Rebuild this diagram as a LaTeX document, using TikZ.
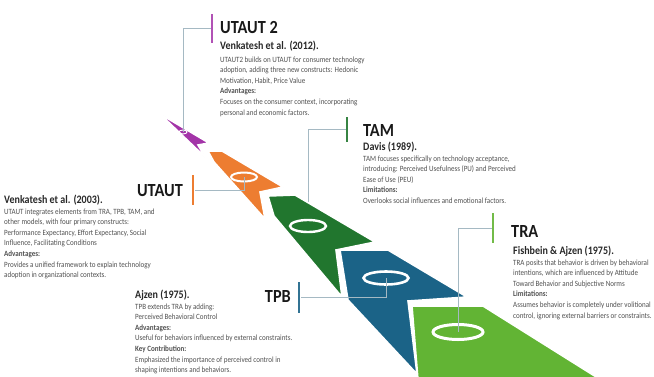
\documentclass[tikz,border=0pt]{standalone}
\usepackage{fontspec}
\setmainfont{Carlito}[FakeStretch=0.88]
\usetikzlibrary{shapes.geometric,backgrounds}
\definecolor{magc}{RGB}{163,52,168}
\definecolor{orac}{RGB}{237,125,49}
\definecolor{dgrc}{RGB}{33,118,46}
\definecolor{bluc}{RGB}{27,99,135}
\definecolor{lgrc}{RGB}{98,180,52}
\definecolor{linkc}{RGB}{165,185,195}
\definecolor{titlec}{RGB}{25,25,25}
\definecolor{subc}{RGB}{40,40,40}
\definecolor{bodyc}{RGB}{80,80,80}

\begin{document}
\begin{tikzpicture}[x=1pt,y=-1pt,
    bar/.style={fill=#1,inner sep=0,minimum width=2.6pt},
    ring/.style={ellipse,draw=white,inner sep=0,line width=#1},
    link/.style={draw=linkc,line width=0.7pt},
    piece/.style={fill=#1,draw=white,line width=1.6pt,line join=miter},
    ttl/.style={font=\fontsize{18.5}{20}\selectfont\bfseries,text=titlec,inner sep=0},
    sub/.style={font=\fontsize{11.4}{12}\selectfont\bfseries,text=subc,inner sep=0,anchor=base west},
    body/.style={font=\fontsize{8}{10.6}\selectfont,text=bodyc,align=left,inner sep=0,anchor=north west}]
    \useasboundingbox(0,0)rectangle(654,376);
    \clip(0,0)rectangle(654,376);

    \fill[piece=magc](160,114)--(209,143)--(198,145)--(205,157)--cycle;
    \fill[piece=orac](208,151)--(222,151)--(283,187)--(260,192)--(265,219)--(214,162)--cycle;
    \fill[piece=dgrc](268,196)--(295,195)--(375,242)--(336,250)--(342,297)--(274,216)--cycle;
    \fill[piece=bluc](340,250)--(388,250)--(467,297)--(408,301)--(417,374)--(348,300)--cycle;
    \fill[piece=lgrc](412,306)--(483,306)--(601,380)--(418,380)--cycle;

    \node[ring=0.9pt,minimum width=8pt,minimum height=4pt](r1)at(183,132){};
    \node[ring=2pt,minimum width=26pt,minimum height=9pt](r2)at(244,177){};
    \node[ring=2.4pt,minimum width=36pt,minimum height=12pt](r3)at(308,226){};
    \node[ring=2.6pt,minimum width=45pt,minimum height=13pt](r4)at(386,278){};
    \node[ring=3pt,minimum width=50pt,minimum height=15pt](r5)at(458,332){};

    \node[bar=magc!85,minimum height=29pt](b1)at(212,28.5){};
    \node[bar=orac,minimum height=30pt](b2)at(193,190){};
    \node[bar=dgrc!90!white,minimum height=25pt](b3)at(347,129.5){};
    \node[bar=bluc!90!white,minimum height=31pt](b4)at(299,297.5){};
    \node[bar=lgrc!90!white,minimum height=30pt](b5)at(493,228){};

    \draw[link](r1.center)|-(b1.west);
    \draw[link](r2.center)|-(b2.east);
    \begin{pgfonlayer}{background}
        \draw[link](r3.center)|-(b3.west);
    \end{pgfonlayer}
    \draw[link](r4.center)|-(b4.east);
    \draw[link](r5.center)|-(b5.west);

    \node[ttl,anchor=base west](t1)at(220,33){UTAUT 2};
    \node[sub](s1)at(220,49){Venkatesh et al. (2012).};
    \node[body](d1)at(220,56.4){UTAUT2 builds on UTAUT for consumer technology\\adoption, adding three new constructs: Hedonic\\Motivation, Habit, Price Value\\\textbf{Advantages:}\\Focuses on the consumer context, incorporating\\personal and economic factors.};

    \node[ttl,anchor=base east](t2)at(183,196){UTAUT};
    \node[sub](s2)at(4,203){Venkatesh et al. (2003).};
    \node[body](d2)at(4,208.4){UTAUT integrates elements from TRA, TPB, TAM, and\\other models, with four primary constructs:\\Performance Expectancy, Effort Expectancy, Social\\Influence, Facilitating Conditions\\\textbf{Advantages:}\\Provides a unified framework to explain technology\\adoption in organizational contexts.};

    \node[ttl,anchor=base west](t3)at(363,136){TAM};
    \node[sub](s3)at(363,150){Davis (1989).};
    \node[body](d3)at(363,155.4){TAM focuses specifically on technology acceptance,\\introducing: Perceived Usefulness (PU) and Perceived\\Ease of Use (PEU)\\\textbf{Limitations:}\\Overlooks social influences and emotional factors.};

    \node[ttl,anchor=base east](t4)at(291,302){TPB};
    \node[sub](s4)at(135,298){Ajzen (1975).};
    \node[body](d4)at(135,303.4){TPB extends TRA by adding:\\Perceived Behavioral Control\\\textbf{Advantages:}\\Useful for behaviors influenced by external constraints.\\\textbf{Key Contribution:}\\Emphasized the importance of perceived control in\\shaping intentions and behaviors.};

    \node[ttl,anchor=base west](t5)at(511,237){TRA};
    \node[sub](s5)at(513,254){Fishbein \& Ajzen (1975).};
    \node[body](d5)at(513,259.4){TRA posits that behavior is driven by behavioral\\intentions, which are influenced by Attitude\\Toward Behavior and Subjective Norms\\\textbf{Limitations:}\\Assumes behavior is completely under volitional\\control, ignoring external barriers or constraints.};
\end{tikzpicture}
\end{document}
